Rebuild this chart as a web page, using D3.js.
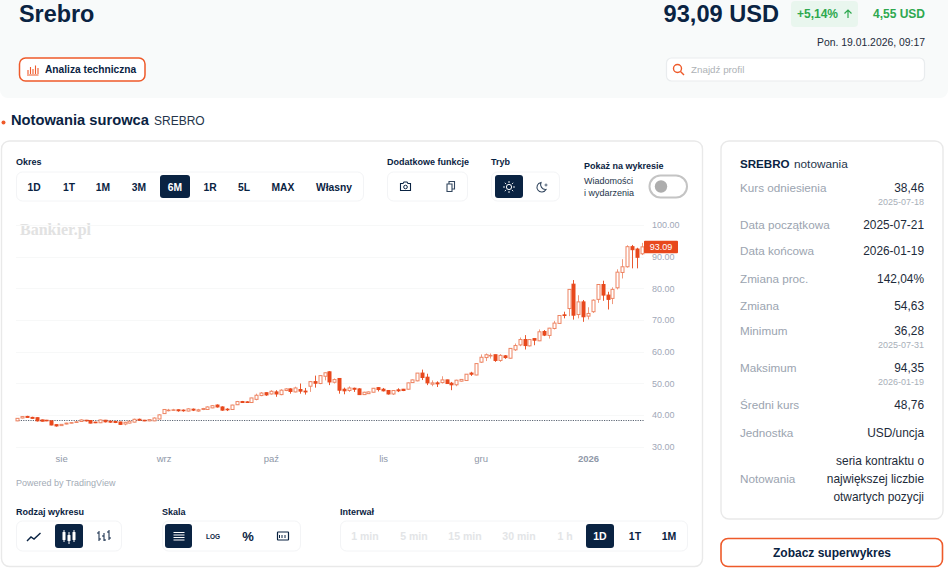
<!DOCTYPE html>
<html lang="pl">
<head>
<meta charset="utf-8">
<title>Srebro</title>
<script src="https://cdn.jsdelivr.net/npm/d3@7"></script>
<style>
html,body{margin:0;padding:0;background:#fff;overflow:hidden}
svg{display:block;font-family:"Liberation Sans",Arial,sans-serif}
</style>
</head>
<body>
<script>
// ---- chart data (one daily bar per entry) ----
var opens=[38.1,39.0,39.5,39.2,39.1,38.4,38.3,38.1,36.9,36.6,
37.1,37.4,37.6,37.9,38.3,38.2,37.7,37.5,38.3,38.0,
37.9,37.75,37.1,37.4,37.7,38.6,38.3,38.1,38.1,38.7,
40.4,41.4,41.5,41.6,41.5,41.2,41.8,41.2,41.7,41.7,
42.2,43.1,42.5,41.8,41.7,43.2,44.2,44.1,43.9,44.9,
46.1,47.0,46.6,47.25,46.4,47.7,48.2,47.25,48.0,47.5,
49.05,50.5,49.9,52.2,53.6,50.3,51.5,48.1,47.7,48.4,
48.2,46.4,46.7,47.15,48.6,48.1,47.7,46.6,47.9,48.1,
48.1,50.2,50.75,53.2,51.9,49.7,50.1,50.2,51.05,50.0,
49.5,50.65,50.85,53.2,52.6,56.65,58.1,58.7,59.0,57.2,
58.65,57.9,60.55,62.1,63.8,61.8,64.1,63.4,66.35,65.1,
67.3,68.9,71.6,73.6,81.3,71.7,75.7,71.2,72.6,76.5,
81.2,77.85,76.8,80.15,85.0,86.8,93.15,92.4,90.9];
var closes=[38.9,39.45,39.2,38.9,38.1,38.0,38.1,36.8,36.5,37.0,
37.4,37.55,37.8,38.4,38.1,37.4,37.5,38.4,37.8,37.7,
37.6,37.0,37.65,38.0,38.6,38.3,38.1,38.5,39.0,40.0,
41.7,41.5,41.6,41.3,41.3,41.9,41.5,41.6,42.0,42.5,
42.9,42.5,41.5,41.6,43.1,44.2,43.9,44.0,45.35,46.2,
46.9,46.3,47.45,46.6,47.8,48.2,47.4,48.5,47.5,47.25,
50.5,50.0,52.4,53.3,50.4,51.15,47.8,47.6,48.5,48.1,
46.4,47.15,47.25,48.4,48.0,47.6,46.6,47.7,47.6,47.7,
50.1,51.05,53.2,51.8,50.1,50.1,49.8,51.05,49.9,49.5,
50.95,51.2,52.85,52.85,56.2,58.2,59.0,58.8,57.2,58.8,
58.1,61.0,61.9,63.8,61.9,63.8,63.6,66.25,65.2,67.4,
69.0,71.4,71.5,79.65,71.5,75.7,71.0,72.05,76.25,81.2,
77.85,76.5,79.65,85.1,86.8,93.15,92.2,89.8,93.09];
var highs=[39.0,39.6,39.7,39.4,39.2,38.5,38.4,38.2,37.0,37.1,
37.5,37.7,37.9,38.6,38.4,38.3,37.8,38.5,38.4,38.1,
38.0,37.8,37.8,38.1,38.8,38.8,38.4,38.6,39.2,40.2,
41.8,41.9,41.9,41.7,41.7,42.1,42.0,41.9,42.2,42.7,
43.1,43.3,42.7,42.1,43.2,44.4,44.4,44.3,45.4,46.7,
47.2,47.1,47.8,47.8,48.1,48.4,48.4,48.9,49.9,48.5,
50.7,52.4,52.6,53.4,53.8,51.5,51.5,48.6,49.0,48.6,
48.4,47.3,47.4,48.5,48.8,48.5,47.8,47.8,48.4,48.2,
50.2,51.2,53.2,54.3,53.0,50.9,50.6,52.2,51.1,50.4,
51.1,51.3,52.9,53.6,56.3,59.1,59.4,59.4,59.0,59.2,
58.9,61.1,62.55,64.45,65.2,63.9,64.1,67.0,66.8,67.5,
69.7,71.5,72.6,79.7,82.6,77.8,76.3,74.0,76.5,81.3,
82.4,78.9,80.3,86.0,89.2,93.6,93.7,92.8,94.35];
var lows=[38.0,38.9,39.1,38.8,37.9,37.9,38.0,36.7,36.28,36.5,
37.0,37.3,37.5,37.8,37.9,37.3,37.4,37.4,37.6,37.5,
37.4,36.9,36.7,37.3,37.6,38.2,38.0,38.0,38.0,38.6,
40.3,41.1,41.3,41.0,41.0,41.1,41.2,41.0,41.5,41.6,
42.1,42.3,41.3,41.2,41.6,43.1,43.8,43.8,43.8,44.6,
45.9,46.0,46.4,45.7,46.2,47.5,46.7,47.1,46.7,46.4,
47.25,48.6,49.7,50.9,49.4,49.9,46.7,46.5,47.25,47.25,
46.3,46.3,46.6,47.1,47.4,47.4,46.4,46.3,47.2,47.5,
48.0,50.1,50.6,51.0,49.4,49.05,48.8,49.9,49.8,47.8,
49.05,50.5,50.7,52.3,52.5,56.4,57.0,57.8,56.75,56.75,
57.7,57.8,60.2,61.7,60.65,61.6,62.0,63.3,64.9,64.1,
67.0,68.8,70.5,71.2,70.1,70.5,69.4,70.15,72.2,75.4,
76.05,73.3,75.0,79.65,83.1,86.5,86.3,86.3,90.5];
var priceTicks=[100,90,80,70,60,50,40,30];
var lastPrice=93.09;
var refPrice=38.46;
var monthBars=[9,30,52,75,95,117];
var monthLabels=["sie","wrz","paź","lis","gru","2026"];

// ---- page texts ----
var periodLabels=["1D","1T","1M","3M","6M","1R","5L","MAX","Własny"];
var periodCenters=[34,69,103,139,175,210,244,283,334];
var intervalLabels=["1 min","5 min","15 min","30 min","1 h","1D","1T","1M"];
var intervalCenters=[365,414,465,519,565,600,635,669];
var statLabels=["Kurs odniesienia","Data początkowa","Data końcowa","Zmiana proc.","Zmiana","Minimum","Maksimum","Średni kurs","Jednostka"];
var statValues=["38,46","2025-07-21","2026-01-19","142,04%","54,63","36,28","94,35","48,76","USD/uncja"];
var statDates=["2025-07-18","","","","","2025-07-31","2026-01-19","",""];
var statBase=[192,229,255,283,310,335,372,409,437];
var noteLines=["seria kontraktu o","największej liczbie","otwartych pozycji"];

var NAVY="#0a2342", ORANGE="#ee5a2a", CANDLE="#e8481c", GREEN="#2ea84f", GREY="#9ba4b0";

var svg=d3.select("body").append("svg").attr("width",948).attr("height",570);

function label(x,y,str,size,opt){
   opt=opt||{};
   return svg.append("text").attr("x",x).attr("y",y).text(str)
      .attr("font-size",size)
      .attr("font-weight",opt.bold?"bold":"normal")
      .attr("font-family",opt.family||null)
      .attr("text-anchor",opt.anchor||"start")
      .attr("fill",opt.fill||NAVY);
}
function box(x,y,w,h,r,fill,stroke,sw){
   return svg.append("rect").attr("x",x).attr("y",y).attr("width",w).attr("height",h).attr("rx",r)
      .attr("fill",fill).attr("stroke",stroke||"none").attr("stroke-width",sw||1);
}
function icon(d,color,sw){
   return svg.append("path").attr("d",d).attr("fill","none").attr("stroke",color).attr("stroke-width",sw||1.3);
}

// ---- header ----
svg.append("path").attr("d","M0,0H948V90a8,8 0 0 1 -8,8H8a8,8 0 0 1 -8,-8Z").attr("fill","#f8fafa");
label(19,22,"Srebro",23.4,{bold:true});
label(779,22,"93,09 USD",23.6,{bold:true,anchor:"end"});
box(791,1,67,26,4,"#e9f6ee");
label(797,18,"+5,14%",12,{bold:true,fill:GREEN});
icon("M848,18V10M844.5,13.5L848,10L851.5,13.5",GREEN,1.2);
label(925,18,"4,55 USD",12,{bold:true,fill:GREEN,anchor:"end"});
label(925,46,"Pon. 19.01.2026, 09:17",10.4,{anchor:"end",fill:"#1d2b3a"});

box(19.5,58,125.5,23,6,"#fff",ORANGE,1.5);
icon("M28,74V70M30.5,74V67M33,74V69M35.5,74V65.5M38,74V68M27,75H38.5",ORANGE,1.1);
label(45,73,"Analiza techniczna",10.2,{bold:true});

box(666.5,58,258,23,5,"#fff","#e9ecee",1.2);
svg.append("circle").attr("cx",677.5).attr("cy",68.5).attr("r",4).attr("fill","none").attr("stroke",ORANGE).attr("stroke-width",1.4);
icon("M680.5,71.5L684,75",ORANGE,1.4);
label(691,73,"Znajdź profil",9.8,{fill:"#aeb2b6"});

svg.append("circle").attr("cx",3.5).attr("cy",122.5).attr("r",2).attr("fill",ORANGE);
label(11,125,"Notowania surowca",14.7,{bold:true});
label(154,125,"SREBRO",12,{fill:"#24344a"});

// ---- cards ----
box(1.5,141,701,425.5,8,"#fff","#e9e9e9",1.4);
box(721,141,222,378,8,"#fff","#e9e9e9",1.4);
box(721,538.5,221.5,28,7,"#fff",ORANGE,1.6);
label(832,557,"Zobacz superwykres",12,{bold:true,anchor:"middle"});

// ---- top controls ----
label(16,165,"Okres",9,{bold:true});
box(16.5,172,347,29,6,"#fff","#f3f4f6");
box(160,175,30,23,3,NAVY);
periodLabels.forEach(function(d,i){
   label(periodCenters[i],191,d,10.3,{bold:true,anchor:"middle",fill:d=="6M"?"#fff":NAVY});
});

label(387,165,"Dodatkowe funkcje",9,{bold:true});
box(387.5,172,80,29,6,"#fff","#f3f4f6");
icon("M400.5,183.5h2.5l1,-1.5h3l1,1.5h2.5v7h-10Z",NAVY,1.1);
svg.append("circle").attr("cx",405.5).attr("cy",187).attr("r",1.8).attr("fill","none").attr("stroke",NAVY).attr("stroke-width",1);
icon("M449,183.5v-2h5.5v7.5h-2M447,184h5v7.5h-5Z","#33475f",1.1);

label(491,165,"Tryb",9,{bold:true});
box(491.5,172,68,29,6,"#fff","#f3f4f6");
box(495,175,28,23,3,NAVY);
svg.append("circle").attr("cx",509).attr("cy",187).attr("r",2.6).attr("fill","none").attr("stroke","#fff").attr("stroke-width",1);
icon("M509,181v2M509,191v2M503,187h2M513,187h2M504.8,182.8l1.4,1.4M511.8,189.8l1.4,1.4M504.8,191.2l1.4,-1.4M511.8,184.2l1.4,-1.4","#fff",.9);
icon("M541,182.5a4.8,4.8 0 1 0 5,7a5,5 0 0 1 -5,-7Z","#33475f",1.1);
icon("M546,183.5v3M544.5,185h3","#33475f",.8);

label(584,169,"Pokaż na wykresie",9,{bold:true});
label(584,184,"Wiadomości",9,{fill:"#24344a"});
label(584,196,"i wydarzenia",9,{fill:"#24344a"});
box(649.5,175.5,37.5,22,11,"#fff","#c4c4c4",2);
svg.append("circle").attr("cx",661).attr("cy",186.5).attr("r",6.2).attr("fill","#adadad");

// ---- candlestick chart ----
var y=d3.scaleLinear().domain([30,100]).range([446.5,225]);
var x=d3.scaleLinear().domain([0,128]).range([17.2,641.7]);
var bars=d3.range(closes.length);

label(20,235,"Bankier.pl",16,{bold:true,family:"'Liberation Serif',serif",fill:"#e2e2e2"});

svg.append("g").selectAll("line").data(priceTicks).join("line")
   .attr("x1",16).attr("x2",644)
   .attr("y1",function(d){return Math.round(y(d))+.5;}).attr("y2",function(d){return Math.round(y(d))+.5;})
   .attr("stroke","#f7f8f8");

var yAxis=d3.axisRight(y).tickValues(priceTicks).tickSize(0).tickPadding(0).tickFormat(d3.format(".2f"));
var gy=svg.append("g").attr("transform","translate(652,0)").call(yAxis);
gy.select(".domain").remove();
gy.selectAll("text").attr("font-size",9).attr("font-family",null).attr("fill","#9fa8b8");

var xAxis=d3.axisBottom(x).tickValues(monthBars).tickSize(0).tickPadding(0)
   .tickFormat(function(d,i){return monthLabels[i];});
var gx=svg.append("g").attr("transform","translate(0,455)").call(xAxis);
gx.select(".domain").remove();
gx.selectAll("text").attr("font-size",9.5).attr("font-family",null).attr("fill","#8f98a8")
   .attr("font-weight",function(d,i){return monthLabels[i]=="2026"?"bold":"normal";});

svg.append("line").attr("x1",16).attr("x2",644)
   .attr("y1",Math.round(y(refPrice))+.5).attr("y2",Math.round(y(refPrice))+.5)
   .attr("stroke","#5c6674").attr("stroke-dasharray","1.2 1.2");

var candle=svg.append("g").selectAll("g").data(bars).join("g");
function isUp(i){return closes[i]>=opens[i];}
function cx(i){return Math.round(x(i))+.5;}
candle.append("line")
   .attr("x1",cx).attr("x2",cx)
   .attr("y1",function(i){return y(highs[i]);}).attr("y2",function(i){return y(lows[i]);})
   .attr("stroke",function(i){return isUp(i)?"#f09a7e":"#ea5a30";});
candle.append("rect")
   .attr("x",function(i){return cx(i)-1.5;}).attr("width",3)
   .attr("y",function(i){return y(Math.max(opens[i],closes[i]));})
   .attr("height",function(i){return Math.max(.6,Math.abs(y(opens[i])-y(closes[i])));})
   .attr("fill",function(i){return isUp(i)?"#fff":CANDLE;})
   .attr("stroke",function(i){return isUp(i)?"#ee8462":CANDLE;});

box(644,y(lastPrice)-6,34,12.5,1,CANDLE);
label(661,y(lastPrice)+3.5,d3.format(".2f")(lastPrice),9,{anchor:"middle",fill:"#fff"});

label(16,486,"Powered by TradingView",9,{fill:"#a3abb6"});

// ---- bottom controls ----
label(16,515,"Rodzaj wykresu",9,{bold:true});
box(16.5,521,105,30,6,"#fff","#f3f4f6");
box(55,524,28,24,3,NAVY);
icon("M27,541l4,-4l3,2l6.5,-6",NAVY,1.4);
icon("M64,530v12M69,532v12M74,530v12","#fff",1);
box(62.5,532,3,8,.5,"#fff"); box(67.5,535,3,6,.5,"#fff"); box(72.5,532,3,8,.5,"#fff");
icon("M99,531v10M97,533h2M99,539h2M104,533v8M102,536h2M104,540h2M109,530v10M107,532h2M109,538h2",NAVY,1);

label(162,515,"Skala",9,{bold:true});
box(162.5,521,138,30,6,"#fff","#f3f4f6");
box(165,524,27,24,3,NAVY);
icon("M173.5,532.5h11M173.5,535h11M173.5,537.5h11M173.5,540h11","#fff",1.1);
label(213,538.5,"LOG",6.5,{bold:true,anchor:"middle"});
label(248,541,"%",13,{bold:true,anchor:"middle"});
box(277.5,532,11,8,.5,"#fff",NAVY,1.2);
icon("M279.5,535v3M282,535v3M285,535v3",NAVY,1);

label(340,515,"Interwał",9,{bold:true});
box(340.5,521,347,30,6,"#fff","#f3f4f6");
box(586,524,28,24,3,NAVY);
intervalLabels.forEach(function(d,i){
   var on=i>=5;
   label(intervalCenters[i],540,d,on?10.5:10.5,{bold:true,anchor:"middle",fill:d=="1D"?"#fff":(on?NAVY:"#e3e5e7")});
});

// ---- quotation panel ----
label(740,168,"SREBRO",11.6,{bold:true});
label(794,168,"notowania",11.8,{fill:"#24344a"});
statLabels.forEach(function(d,i){
   label(740,statBase[i],d,11.7,{fill:GREY});
   label(924,statBase[i],statValues[i],11.9,{anchor:"end",fill:"#1d2b3a"});
   if(statDates[i]) label(924,statBase[i]+13,statDates[i],9,{anchor:"end",fill:"#a8afb9"});
});
label(740,483,"Notowania",11.7,{fill:GREY});
noteLines.forEach(function(d,i){
   label(924,[465,483,501][i],d,11.9,{anchor:"end",fill:"#1d2b3a"});
});
</script>
</body>
</html>
